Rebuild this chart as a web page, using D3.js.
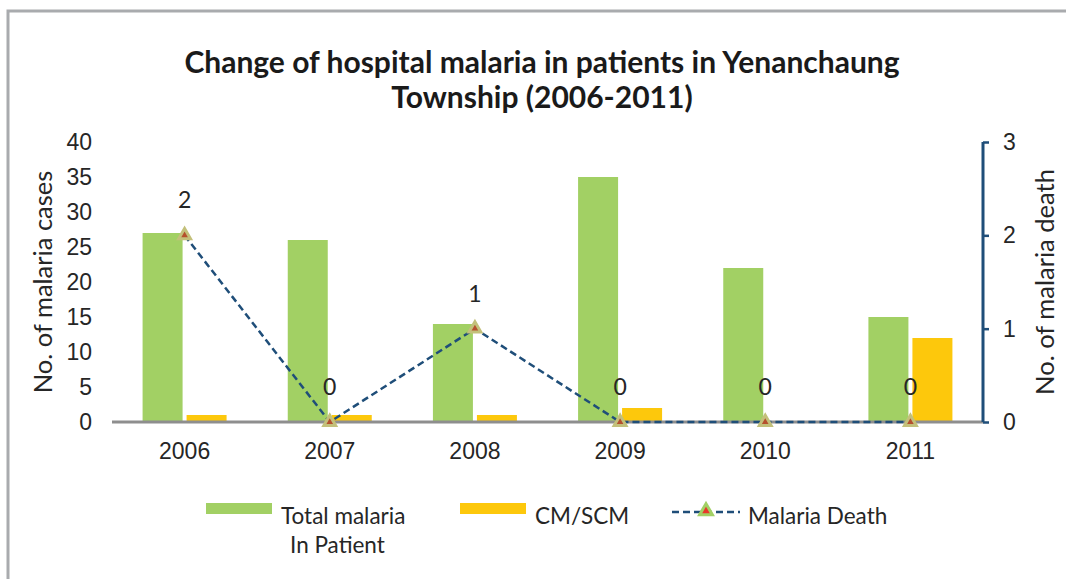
<!DOCTYPE html>
<html>
<head>
<meta charset="utf-8">
<script src="https://cdn.jsdelivr.net/npm/d3@7"></script>
<style>
  body { margin: 0; background: #fff; }
  svg { display: block; font-family: Lato, "Open Sans", sans-serif; }
</style>
</head>
<body>
<svg class="chart" width="1066" height="579"></svg>
<script>
var years = ["2006", "2007", "2008", "2009", "2010", "2011"];
var totalInPatient = [27, 26, 14, 35, 22, 15];
var cmScm = [1, 1, 1, 2, 0, 12];
var malariaDeath = [2, 0, 1, 0, 0, 0];
var leftTicks = [0, 5, 10, 15, 20, 25, 30, 35, 40];
var rightTicks = [0, 1, 2, 3];

var svg = d3.select(".chart");
var margin = {top: 142, right: 83, bottom: 157, left: 112};
var width = +svg.attr("width") - margin.left - margin.right;
var height = +svg.attr("height") - margin.top - margin.bottom;

var green = "#a2d064", yellow = "#fdc80c", navy = "#1f4e79", ink = "#262626";
var tickSize = 23;

// outer frame (only left and top edges show)
svg.append("path")
    .attr("d", "M8,579 V11 H1066")
    .attr("fill", "none")
    .attr("stroke", "#a9abae")
    .attr("stroke-width", 3);

svg.append("text")
    .attr("x", 542).attr("y", 73)
    .attr("text-anchor", "middle")
    .attr("font-size", 30).attr("font-weight", "bold").attr("fill", "#1a1a1a")
    .text("Change of hospital malaria in patients in Yenanchaung");
svg.append("text")
    .attr("x", 542).attr("y", 108)
    .attr("text-anchor", "middle")
    .attr("font-size", 30).attr("font-weight", "bold").attr("fill", "#1a1a1a")
    .text("Township (2006-2011)");

var xScale = d3.scaleBand().domain(years).range([0, width]);
var yScale = d3.scaleLinear().domain([0, 40]).range([height, 0]);
var y2Scale = d3.scaleLinear().domain([0, 3]).range([height, 0]);

var g = svg.append("g")
    .attr("transform", "translate(" + margin.left + "," + margin.top + ")");

var barW = 40, gap = 2;

g.selectAll(".bar-total")
    .data(years)
    .enter().append("rect")
      .attr("class", "bar-total")
      .attr("x", function (d) { return xScale(d) + xScale.bandwidth() / 2 - gap - barW; })
      .attr("y", function (d, i) { return yScale(totalInPatient[i]); })
      .attr("width", barW)
      .attr("height", function (d, i) { return height - yScale(totalInPatient[i]); })
      .attr("fill", green);

g.selectAll(".bar-cm")
    .data(years)
    .enter().append("rect")
      .attr("class", "bar-cm")
      .attr("x", function (d) { return xScale(d) + xScale.bandwidth() / 2 + gap; })
      .attr("y", function (d, i) { return yScale(cmScm[i]); })
      .attr("width", barW)
      .attr("height", function (d, i) { return height - yScale(cmScm[i]); })
      .attr("fill", yellow);

// x axis baseline + labels
g.append("line")
    .attr("x1", 0).attr("x2", width)
    .attr("y1", height).attr("y2", height)
    .attr("stroke", "#8e8e8e").attr("stroke-width", 3);

var xAxis = g.append("g")
    .attr("transform", "translate(0," + height + ")")
    .call(d3.axisBottom(xScale).tickSize(0).tickPadding(21));
xAxis.select(".domain").remove();
xAxis.selectAll("text").attr("font-size", tickSize).attr("fill", ink).attr("font-family", null);

// left axis
var yAxis = g.append("g")
    .call(d3.axisLeft(yScale).tickValues(leftTicks).tickSize(0).tickPadding(20));
yAxis.select(".domain").remove();
yAxis.selectAll("text").attr("font-size", tickSize).attr("fill", ink).attr("font-family", null);

// right axis
var y2Axis = g.append("g")
    .attr("transform", "translate(" + width + ",0)")
    .call(d3.axisRight(y2Scale).tickValues(rightTicks).tickSize(6).tickPadding(14).tickFormat(d3.format("d")));
y2Axis.select(".domain").attr("stroke", navy).attr("stroke-width", 3).attr("d", "M0," + height + "V0");
y2Axis.selectAll("line").attr("stroke", navy).attr("stroke-width", 2.5);
y2Axis.selectAll("text").attr("font-size", tickSize).attr("fill", ink).attr("font-family", null);

g.append("text")
    .attr("transform", "translate(-60," + (height / 2) + ") rotate(-90)")
    .attr("text-anchor", "middle")
    .attr("font-size", 25.5).attr("fill", ink)
    .text("No. of malaria cases");

g.append("text")
    .attr("transform", "translate(" + (width + 71) + "," + (height / 2) + ") rotate(-90)")
    .attr("text-anchor", "middle")
    .attr("font-size", 25.5).attr("fill", ink)
    .text("No. of malaria death");

// death line
var cx = function (d, i) { return xScale(years[i]) + xScale.bandwidth() / 2; };
var line = d3.line()
    .x(cx)
    .y(function (d) { return y2Scale(d); });

g.append("path")
    .datum(malariaDeath)
    .attr("d", line)
    .attr("fill", "none")
    .attr("stroke", navy)
    .attr("stroke-width", 2.5)
    .attr("stroke-dasharray", "7,4");

var tri = d3.symbol().type(d3.symbolTriangle).size(60);
g.selectAll(".marker")
    .data(malariaDeath)
    .enter().append("path")
      .attr("class", "marker")
      .attr("transform", function (d, i) { return "translate(" + cx(d, i) + "," + y2Scale(d) + ")"; })
      .attr("d", tri)
      .attr("fill", "#b5502d")
      .attr("stroke", "#c3c07a")
      .attr("stroke-width", 3);

g.selectAll(".death-label")
    .data(malariaDeath)
    .enter().append("text")
      .attr("class", "death-label")
      .attr("x", cx)
      .attr("y", function (d) { return y2Scale(d) - 27; })
      .attr("text-anchor", "middle")
      .attr("font-size", tickSize).attr("fill", ink)
      .text(function (d) { return d; });

// legend
var legend = svg.append("g").attr("font-size", 22.5).attr("fill", ink);
legend.append("rect").attr("x", 206).attr("y", 503).attr("width", 66).attr("height", 11).attr("fill", green);
legend.append("text").attr("x", 281).attr("y", 524).text("Total malaria");
legend.append("text").attr("x", 290).attr("y", 553).text("In Patient");

legend.append("rect").attr("x", 460).attr("y", 503).attr("width", 66).attr("height", 11).attr("fill", yellow);
legend.append("text").attr("x", 535).attr("y", 524).text("CM/SCM");

legend.append("line").attr("x1", 672).attr("x2", 740).attr("y1", 512).attr("y2", 512)
    .attr("stroke", navy).attr("stroke-width", 2.5).attr("stroke-dasharray", "7,4");
legend.append("path")
    .attr("transform", "translate(706,511)")
    .attr("d", d3.symbol().type(d3.symbolTriangle).size(70))
    .attr("fill", "#e8372a").attr("stroke", "#a2d064").attr("stroke-width", 3);
legend.append("text").attr("x", 748).attr("y", 524).text("Malaria Death");
</script>
</body>
</html>
